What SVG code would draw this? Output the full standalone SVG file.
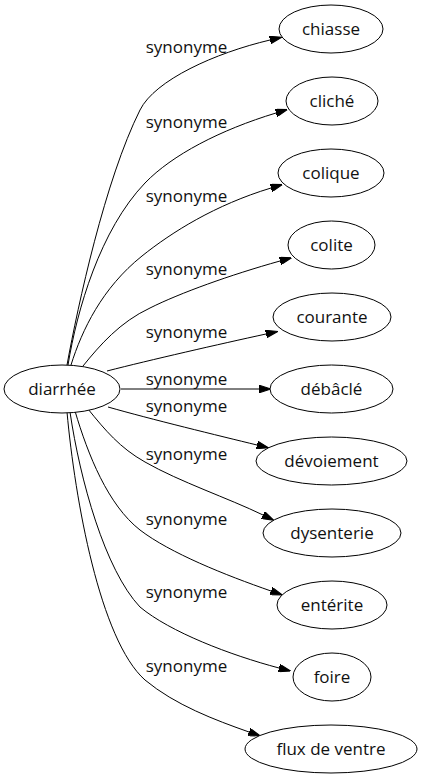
<svg xmlns="http://www.w3.org/2000/svg" width="423" height="779" viewBox="0 0 423 779">
<style>
.n ellipse{fill:#fff;stroke:#000;stroke-width:1}
text{font-family:"Open Sans","DejaVu Sans",sans-serif;font-size:17px;fill:#111}
.n text{text-anchor:middle}
.e path{fill:none;stroke:#000;stroke-width:1;marker-end:url(#ah)}
.e text{text-anchor:middle}
</style>
<defs>
<marker id="ah" markerUnits="userSpaceOnUse" markerWidth="12" markerHeight="8" refX="0" refY="3.5" orient="auto" viewBox="0 0 11 7">
<polygon points="0,0 11,3.5 0,7" fill="#000" stroke="#000" stroke-width="1"/>
</marker>
</defs>
<rect width="423" height="779" fill="#fff"/>
<g class="e" id="connectors">
<path d="M67,365 C78,305 105,180 140,110 C155,80 215,53 270,40"/>
<text x="186.5" y="53">synonyme</text>
<path d="M68,365 C77,310 100,230 145,183 C172,155 220,130 276,113"/>
<text x="186.5" y="128">synonyme</text>
<path d="M71,365 C82,330 102,288 142,256 C172,232 215,205 271,188"/>
<text x="186.5" y="202">synonyme</text>
<path d="M83,366 C100,345 120,322 150,308 C180,293 230,275 280,261"/>
<text x="186.5" y="275">synonyme</text>
<path d="M107,371 C150,360 220,344 266,334"/>
<text x="186.5" y="338">synonyme</text>
<path d="M121,389 L259,389"/>
<text x="186.5" y="385">synonyme</text>
<path d="M108,407 C150,419 220,436 257,445"/>
<text x="186.5" y="412">synonyme</text>
<path d="M88,409 C105,430 120,448 145,462 C180,482 228,498 263,515"/>
<text x="186.5" y="460">synonyme</text>
<path d="M75,411 C88,455 108,505 140,530 C170,553 225,575 271,591"/>
<text x="186.5" y="525">synonyme</text>
<path d="M70,412 C80,480 105,570 140,607 C170,632 230,655 279,668"/>
<text x="186.5" y="598">synonyme</text>
<path d="M67,412 C75,500 100,640 145,680 C175,705 215,720 249,732"/>
<text x="186.5" y="672">synonyme</text>
</g>
<g class="n" id="diarrhee"><ellipse cx="62" cy="389" rx="58" ry="24"/><text x="62" y="395">diarrhée</text></g>
<g class="n" id="chiasse"><ellipse cx="331" cy="29" rx="52" ry="24"/><text x="331" y="35">chiasse</text></g>
<g class="n" id="cliche"><ellipse cx="332" cy="101" rx="46" ry="24"/><text x="332" y="107">cliché</text></g>
<g class="n" id="colique"><ellipse cx="331" cy="173" rx="53" ry="24"/><text x="331" y="179">colique</text></g>
<g class="n" id="colite"><ellipse cx="331.5" cy="245" rx="43.5" ry="24"/><text x="331.5" y="251">colite</text></g>
<g class="n" id="courante"><ellipse cx="332" cy="317" rx="59" ry="24"/><text x="332" y="323">courante</text></g>
<g class="n" id="debacle"><ellipse cx="331.5" cy="389" rx="61.5" ry="24"/><text x="331.5" y="395">débâclé</text></g>
<g class="n" id="devoiement"><ellipse cx="331.5" cy="461" rx="75.5" ry="24"/><text x="331.5" y="467">dévoiement</text></g>
<g class="n" id="dysenterie"><ellipse cx="332" cy="533" rx="69" ry="24"/><text x="332" y="539">dysenterie</text></g>
<g class="n" id="enterite"><ellipse cx="332" cy="605" rx="55" ry="24"/><text x="332" y="611">entérite</text></g>
<g class="n" id="foire"><ellipse cx="332" cy="677" rx="39" ry="24"/><text x="332" y="683">foire</text></g>
<g class="n" id="flux"><ellipse cx="331" cy="749" rx="86" ry="24"/><text x="331" y="755">flux de ventre</text></g>
</svg>
